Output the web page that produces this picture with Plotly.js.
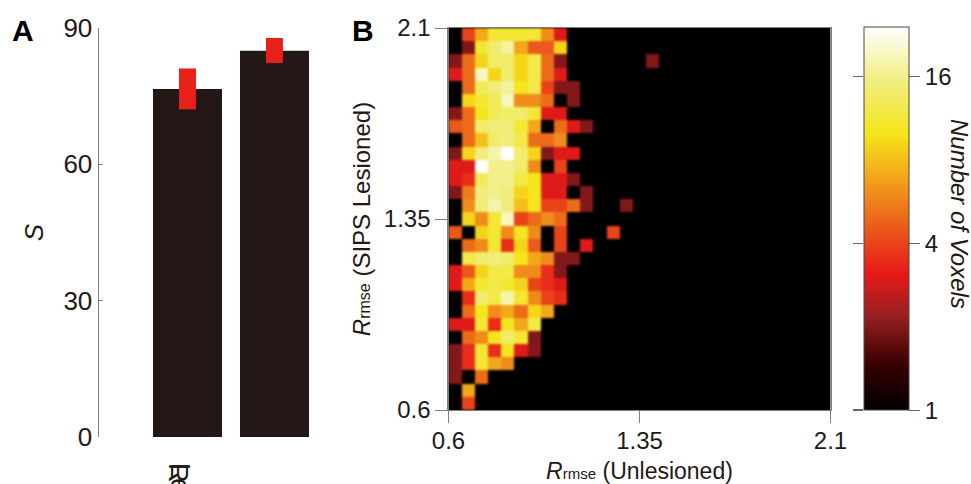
<!DOCTYPE html>
<html><head><meta charset="utf-8">
<script src="https://cdn.plot.ly/plotly-3.0.1.min.js"></script>
<style>html,body{margin:0;padding:0;background:#fff}
.hm image{filter:blur(1.3px)}</style></head>
<body><div id="chart" style="width:971px;height:484px"></div>
<script>
const hemispheres = ['Left', 'Right'];
const hemisphereTickPos = [-0.03, -0.06];
const sValues = [76.6, 85];
const errLow = [72.1, 82.3];
const errHigh = [81.1, 87.8];
const axisTicksS = [0, 30, 60, 90];
const axisTicksR = [0.6, 1.35, 2.1];
const rMin = 0.6, rMax = 2.1, binCount = 29;
const barColor = '#231815', errColor = '#e8201a', axisColor = '#827e7c', textColor = '#231815';
const cbarTickCounts = [1, 4, 16];
const cbarMaxCount = 24;
// voxel counts, top row first, columns left to right (cells not listed hold 1)
const voxelRows = [
 [1,4,7,11,11,11,11,6,3],
 [1,2,11,14,17,7,4.5,4.5,9],
 [2,5,9,14,14,9,12,5,2,1,1,1,1,1,1,2],
 [3,5,19,9,14,9,12,5,3],
 [1,5,13,15,17,10,12,4,2,2],
 [1,9,11,13,19,6,6,5,1,2],
 [2,5,10,13,14,14,11,3,3],
 [4.5,5,14,15,15,11,7,1,5,3,2],
 [1,5,8,14,15,12,5,5,6],
 [2,9,15,18,24,14,9,2,3,3],
 [3,3,24,16,16,14,6,1,4],
 [3,3.5,13,16,16,12,10,3,3,2],
 [2,5.5,15,16,15,9,10,3,3,1,2],
 [1,6,15,18,15,8,10,4,4,5,2,1,1,2],
 [1,9,6,11,19,4,5,6,5],
 [4.5,1,9,11,6,10,6,1,4,1,1,1,4],
 [1,5,6,11,3.5,9,4.5,1,4,1,3],
 [1,12,14,15,14,10,7,6,2,2],
 [3,4.5,9,12,12,6,6,3.5,2],
 [3,7,11,12,11,9,4,3.5,3],
 [1,3.5,14,12,18,11,6,4,3.5],
 [1,5,10,6,7,5,9,7],
 [3,3,11,3.5,10,7,12],
 [1,5,6,10,14,11,2],
 [2,3.5,11,3.5,10,3,2],
 [2,3.5,11,7,6],
 [2,1,5],
 [1,7],
 [1,4]
];
const heatStops = [[0,'#000000'],[0.12,'#3a0000'],[0.25,'#9b2022'],[0.36,'#e81a18'],[0.475,'#ea5a1a'],[0.6,'#f3a01a'],[0.72,'#f5e51a'],[0.86,'#f0ee80'],[1,'#ffffff']];

const W = 971, H = 484;
const fx = p => p / W, fy = p => 1 - p / H;
const full = voxelRows.slice().reverse().map(r => {
  const o = r.slice(); while (o.length < binCount) o.push(1); return o.map(v => Math.log2(v));
});
const dx = (rMax - rMin) / binCount;
const logMax = Math.log2(cbarMaxCount);
const tickLogs = cbarTickCounts.map(Math.log2);
const f = s => ({family:'"Liberation Sans",Arial,sans-serif', size:s, color:textColor});
const rTitle = (t, pad, s) => pad + "<i>R</i><span style='font-size:" + s + "px'>rmse</span> " + t;
const nb = '\u00a0';

const traces = [
 {type:'bar', x:hemispheres, y:sValues, width:0.793, marker:{color:barColor}, xaxis:'x', yaxis:'y', hoverinfo:'skip'},
 {type:'bar', x:hemispheres, base:errLow, y:errHigh.map((v,i)=>v-errLow[i]), width:0.195, marker:{color:errColor}, xaxis:'x', yaxis:'y', hoverinfo:'skip'},
 {type:'heatmap', z:full, x0:rMin+dx/2, dx:dx, y0:rMin+dx/2, dy:dx, xaxis:'x2', yaxis:'y2', zmin:0, zmax:logMax,
  colorscale:heatStops, zsmooth:false, hoverinfo:'skip',
  colorbar:{thickness:45, thicknessmode:'pixels', len:383, lenmode:'pixels', x:fx(864), xanchor:'left', xpad:0,
    y:fy(27.5), yanchor:'top', ypad:0, outlinecolor:'#4a4644', outlinewidth:1, tickmode:'array', tickvals:tickLogs,
    ticktext:cbarTickCounts.map(String), ticks:'outside', ticklen:11, tickwidth:1.2, tickcolor:'#6a6664', tickfont:f(24)}},
 {type:'scatter', mode:'markers', x:[0], y:[0], xaxis:'x3', yaxis:'y3', marker:{opacity:0}, hoverinfo:'skip', showlegend:false}
];
const layout = {
 width:W, height:H, margin:{l:0,r:0,t:0,b:0}, paper_bgcolor:'#fff', plot_bgcolor:'#fff', showlegend:false, barmode:'overlay',
 font:f(24),
 xaxis:{domain:[fx(99),fx(330)], range:[-1.017,1.638], anchor:'y', type:'category', categoryorder:'array', categoryarray:hemispheres,
   tickmode:'array', tickvals:hemisphereTickPos, ticktext:hemispheres,
   showline:false, showgrid:false, zeroline:false, ticks:'outside', ticklen:6, tickcolor:'rgba(0,0,0,0)', tickfont:f(27), automargin:false},
 yaxis:{domain:[fy(437),fy(28)], range:[0,90], anchor:'x', tickmode:'array', tickvals:axisTicksS, showgrid:false, zeroline:false, showline:true,
   linecolor:axisColor, linewidth:1.5, ticks:'inside', ticklen:4, tickcolor:axisColor, tickfont:f(26), automargin:false,
   title:{text:'<i>S</i>', font:f(26), standoff:12}},
 xaxis2:{domain:[fx(448.5),fx(830.5)], range:[rMin,rMax], anchor:'y2', tickmode:'array', tickvals:axisTicksR, showgrid:false, zeroline:false,
   showline:true, mirror:true, linecolor:axisColor, linewidth:1.2, ticks:'outside', ticklen:12, tickcolor:axisColor, tickfont:f(24), ticklabelstandoff:-3, automargin:false,
   title:{text:rTitle('(Unlesioned)', nb.repeat(4), 15), font:f(23), standoff:9}},
 yaxis2:{domain:[fy(410),fy(28)], range:[rMin,rMax], anchor:'x2', tickmode:'array', tickvals:axisTicksR, showgrid:false, zeroline:false,
   showline:true, mirror:true, linecolor:axisColor, linewidth:1.2, ticks:'outside', ticklen:12, tickcolor:axisColor, tickfont:f(24), automargin:false,
   title:{text:rTitle('(SIPS Lesioned)' + nb.repeat(3), '', 16), font:f(24), standoff:6}},
 xaxis3:{domain:[fx(864),fx(909)], range:[0,1], anchor:'y3', visible:false},
 yaxis3:{domain:[fy(410),fy(27.5)], range:[0,logMax], anchor:'x3', tickmode:'array', tickvals:tickLogs, showticklabels:false, showgrid:false, zeroline:false,
   showline:false, ticks:'outside', ticklen:10, tickwidth:1.2, tickcolor:'#6a6664'},
 shapes:[{type:'rect', xref:'x2', yref:'y2', x0:rMin, x1:rMax, y0:rMin, y1:rMax, layer:'below', fillcolor:'#000', line:{width:0}}],
 annotations:[
  {text:'<b>A</b>', xref:'paper', yref:'paper', x:fx(23), y:fy(31), xanchor:'center', yanchor:'middle', showarrow:false, font:Object.assign(f(30),{color:'#000'})},
  {text:'<b>B</b>', xref:'paper', yref:'paper', x:fx(363), y:fy(31), xanchor:'center', yanchor:'middle', showarrow:false, font:Object.assign(f(30),{color:'#000'})},
  {text:'<i>Number of Voxels</i>', xref:'paper', yref:'paper', x:fx(960), y:fy(214), xanchor:'center', yanchor:'middle', textangle:90, showarrow:false, font:f(24)}
 ]
};
Plotly.newPlot('chart', traces, layout, {displayModeBar:false, staticPlot:true});
</script></body></html>
